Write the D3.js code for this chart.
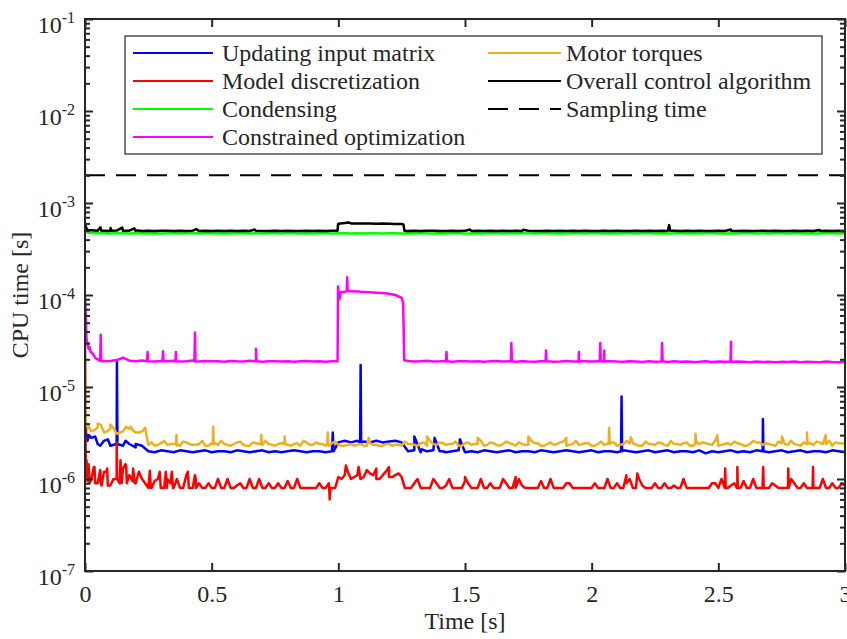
<!DOCTYPE html>
<html><head><meta charset="utf-8">
<script src="https://cdn.jsdelivr.net/npm/d3@7"></script>
<style>body{margin:0;background:#fff}svg{display:block}text{font-family:"Liberation Serif","Times New Roman",serif;fill:#262626}</style>
</head><body>
<script>
// ---------- DATA (values in microseconds, sampled every 25 ms; "Mid" arrays sit half a step later) ----------
const sampleStep = 0.025;
const xTickValues = [0, 0.5, 1, 1.5, 2, 2.5, 3];
const xTickLabels = ["0", "0.5", "1", "1.5", "2", "2.5", "3"];
const yDecades = [1e-7, 1e-6, 1e-5, 1e-4, 1e-3, 1e-2, 1e-1];
const yTickExponents = ["-7", "-6", "-5", "-4", "-3", "-2", "-1"];
const samplingTime = 2e-3;

const seriesNames = ["Updating input matrix", "Model discretization", "Condensing", "Constrained optimization", "Motor torques", "Overall control algorithm", "Sampling time"];
const seriesColors = ["#0000FF", "#FF0000", "#00FF00", "#FF00FF", "#EDB120", "#000000", "#000000"];

const updatingInput = [8,
 2.8,2.4,2.6,2.3,2.5,2.3,2.4,2.2,2.3,2.0,
 1.95,2.05,2.0,1.95,2.05,2.0,1.95,2.0,2.05,1.95,
 2.0,2.0,1.95,2.05,2.0,1.95,2.0,2.05,1.95,2.0,
 1.95,2.0,2.05,2.0,1.95,2.0,2.0,1.95,2.0,2.5,
 2.6,2.5,2.6,2.55,2.5,2.6,2.5,2.55,2.6,2.5,
 2.0,2.05,1.95,2.0,2.05,2.0,1.95,2.0,2.05,1.95,
 2.0,1.95,2.05,2.0,1.95,2.0,2.05,1.95,2.0,2.0,
 1.95,2.05,2.0,1.95,2.0,2.05,2.0,1.95,2.0,2.05,
 1.95,2.0,2.0,1.95,2.05,2.0,1.95,2.0,2.05,1.95,
 2.0,2.05,1.95,2.0,2.0,1.95,2.05,1.9,2.0,1.95,
 2.0,2.05,1.95,2.0,1.95,2.05,2.0,1.95,2.0,2.05,
 1.95,2.0,2.05,1.95,2.0,2.0,1.95,2.05,2.0,1.95];
const updatingInputMid = [];
const updatingInputExtra = [[0.004,3.2],[0.01,2.6],[0.015,3.0],[0.04,2.9],[0.06,2.3],[0.09,2.7],
 [0.124,2.4],[0.126,18.7],[0.128,2.4],[0.16,2.6],[0.2,2.4],[0.978,3.2],[0.981,2.0],
 [1.086,2.5],[1.088,17.3],[1.09,2.5],[1.3,2.9],[1.33,2.1],[1.38,2.8],[1.41,2.0],[1.48,2.7],
 [2.116,2.0],[2.118,7.9],[2.12,2.0],[2.674,2.0],[2.676,4.5],[2.678,2.0]];

const modelDisc = [30,
 1.0,0.9,1.2,0.85,1.0,1.3,1.1,0.9,1.0,0.8,
 0.95,0.8,1.0,0.8,0.8,1.1,0.8,0.9,0.8,0.8,
 1.0,0.8,0.8,0.85,0.8,1.0,0.8,0.8,0.9,0.8,
 0.8,0.95,0.8,0.8,0.8,0.8,0.9,0.8,0.8,1.05,
 1.1,1.0,1.1,1.05,1.15,1.0,1.1,1.05,1.1,1.05,
 0.8,0.9,0.8,0.8,1.0,0.8,0.85,0.8,0.8,0.95,
 0.8,0.8,0.8,0.9,0.8,1.0,0.8,0.8,0.85,0.8,
 0.8,0.95,0.8,0.8,0.8,0.9,0.8,0.8,0.8,0.8,
 0.8,0.8,0.8,0.9,0.8,1.0,0.8,0.85,0.8,0.9,
 0.8,0.8,0.85,0.8,0.8,0.8,0.8,0.8,0.9,0.8,
 0.8,0.85,0.8,0.95,0.8,0.8,0.9,0.8,0.85,0.8,
 0.8,0.9,0.8,0.8,0.85,0.8,0.8,0.9,0.8,0.85];
const modelDiscMid = [
 1.2,1.35,0.9,1.3,1.0,0.9,1.4,0.95,1.2,0.9,
 0.8,1.0,0.8,0.9,1.0,0.8,0.8,1.0,0.8,0.9,
 0.8,0.8,1.0,0.8,0.9,0.8,0.8,1.0,0.8,0.8,
 0.9,0.8,0.8,1.0,0.8,0.8,0.8,0.8,0.9,0.8,
 1.0,1.2,1.05,1.0,1.25,1.1,1.0,1.2,1.05,1.15,
 0.8,0.8,1.0,0.8,0.8,0.9,0.8,1.0,0.8,0.8,
 0.9,0.8,1.0,0.8,0.8,0.8,0.9,0.8,1.0,0.8,
 0.8,0.8,0.8,1.0,0.8,0.8,0.9,0.8,0.8,0.8,
 0.9,0.8,1.0,0.8,0.8,0.9,0.8,1.0,0.8,0.8,
 0.8,0.9,0.8,0.8,1.0,0.8,0.8,0.8,0.8,0.9,
 1.0,0.8,0.9,0.8,0.8,1.0,0.8,0.8,0.9,0.8,
 0.8,1.0,0.8,0.9,0.8,0.8,1.0,0.8,0.8,0.9];
const modelDiscExtra = [[0.003,1.3],[0.006,1.6],[0.01,0.95],[0.014,1.45],[0.018,0.9],[0.035,1.35],[0.04,0.9],
 [0.06,1.25],[0.065,0.85],[0.085,1.2],[0.09,0.85],[0.123,1.0],[0.125,2.5],[0.127,1.0],[0.14,1.6],[0.145,0.9],
 [0.16,1.45],[0.165,0.9],[0.19,1.3],[0.196,0.9],[0.256,1.23],[0.26,0.8],[0.295,1.2],[0.299,0.8],[0.319,1.2],
 [0.323,0.8],[0.343,1.2],[0.347,0.8],[0.406,1.2],[0.41,0.8],[0.434,1.1],[0.438,0.8],[0.964,0.8],[0.966,0.6],
 [0.968,0.8],[1.03,1.4],[1.08,1.35],[1.15,1.3],[1.2,1.35],[1.5,1.05],[1.7,1.05],[2.137,1.1],[2.18,1.15],
 [2.525,0.8],[2.527,1.3],[2.529,0.8],[2.573,0.8],[2.575,1.35],[2.577,0.8],[2.675,0.8],[2.677,1.35],[2.679,0.8],
 [2.774,0.8],[2.776,1.3],[2.778,0.8],[2.872,0.8],[2.874,1.35],[2.876,0.8]];

const condensing = [560,
 472,468,470,466,469,471,467,470,468,466,
 469,467,470,468,466,469,471,467,468,470,
 467,469,466,470,468,467,469,466,470,468,
 467,469,468,466,470,467,468,469,466,470,
 468,467,469,466,470,468,467,469,468,466,
 469,467,470,468,466,469,467,470,468,466,
 467,469,466,470,468,467,469,466,470,468,
 467,469,468,466,470,467,468,469,466,470,
 468,467,469,466,470,468,467,469,468,466,
 469,467,470,468,466,469,467,470,468,466,
 467,469,466,470,468,467,469,466,470,468,
 467,469,468,466,470,467,468,469,466,468];
const condensingMid = [];
const condensingExtra = [[0.004,500],[0.01,478]];

const constrainedOpt = [100,
 24,20,19,19.2,19.6,20.8,19.3,19,19.4,19.1,
 18.9,19.2,19,19.3,18.9,19.1,19.4,18.9,19.2,19,
 19.1,18.8,19.2,19,18.9,19.3,19,18.8,19.1,19,
 18.9,19.1,18.8,19,19.2,18.9,19,18.8,19.1,112,
 108,110,109,108,107,106,105,103,100,93,
 19.2,18.9,19.1,19.3,18.9,19,19.2,18.8,19.1,19,
 18.9,19.1,18.8,19,19.2,18.9,19,18.8,19.1,18.9,
 18.8,19,19.1,18.8,18.9,19.2,18.9,18.8,19,18.9,
 19,18.8,19.1,18.9,18.8,19,18.9,18.7,19,18.8,
 18.9,18.7,19,18.8,18.9,18.7,18.8,19,18.7,18.9,
 18.8,18.7,18.9,18.8,18.6,18.9,18.7,18.8,18.6,18.8,
 18.7,18.9,18.6,18.8,18.7,18.6,18.9,18.7,18.6,18.8];
const constrainedOptMid = [];
const constrainedOptExtra = [[0.003,60],[0.006,33],[0.01,30],[0.014,26],[0.018,27],[0.022,24],[0.035,22],[0.042,20.5],
 [0.06,19.2],[0.062,37],[0.064,19.2],[0.245,19],[0.247,24],[0.249,19],[0.306,19],[0.308,24.5],[0.31,19],
 [0.357,19],[0.359,24],[0.361,19],[0.432,19],[0.434,39],[0.436,19],[0.673,19],[0.675,26],[0.677,19],
 [0.997,19],[0.999,124],[1.004,90],[1.01,108],[1.033,110],[1.035,156],[1.037,110],[1.256,82],[1.26,19.5],
 [1.425,19],[1.427,24],[1.429,19],[1.681,19],[1.683,30],[1.685,19],[1.818,19],[1.82,25],[1.822,19],
 [1.948,19],[1.95,24],[1.952,19],[2.032,19],[2.034,30],[2.036,19],[2.048,19],[2.05,25],[2.052,19],
 [2.276,19],[2.278,30],[2.28,19],[2.548,18.8],[2.55,31],[2.552,18.8]];

const motorTorques = [13,
 3.3,3.6,3.2,3.5,3.1,3.3,3.5,3.2,3.3,2.35,
 2.3,2.45,2.35,2.4,2.3,2.5,2.35,2.4,2.3,2.45,
 2.35,2.4,2.3,2.5,2.35,2.3,2.45,2.35,2.4,2.3,
 2.45,2.35,2.4,2.3,2.5,2.35,2.4,2.3,2.45,2.35,
 2.3,2.4,2.35,2.3,2.45,2.35,2.3,2.4,2.35,2.3,
 2.4,2.35,2.45,2.3,2.4,2.5,2.35,2.4,2.3,2.45,
 2.35,2.4,2.3,2.5,2.35,2.4,2.45,2.3,2.4,2.35,
 2.45,2.3,2.4,2.35,2.5,2.3,2.4,2.35,2.45,2.3,
 2.4,2.35,2.5,2.3,2.4,2.45,2.35,2.3,2.4,2.35,
 2.45,2.3,2.4,2.35,2.5,2.3,2.4,2.45,2.35,2.3,
 2.4,2.35,2.45,2.3,2.4,2.5,2.35,2.4,2.3,2.45,
 2.35,2.4,2.3,2.45,2.35,2.5,2.4,2.3,2.45,2.4];
const motorTorquesMid = [
 3.8,3.4,3.9,3.3,3.6,3.2,3.7,3.4,3.2,3.6,
 2.5,2.35,2.6,2.4,2.3,2.55,2.4,2.35,2.6,2.3,
 2.45,2.6,2.35,2.4,2.55,2.3,2.5,2.4,2.6,2.35,
 2.4,2.55,2.3,2.45,2.6,2.35,2.5,2.4,2.3,2.55,
 2.3,2.35,2.3,2.4,2.3,2.35,2.3,2.4,2.3,2.35,
 2.55,2.4,2.3,2.5,2.6,2.35,2.45,2.4,2.55,2.3,
 2.5,2.4,2.6,2.35,2.45,2.3,2.55,2.4,2.5,2.35,
 2.6,2.45,2.3,2.5,2.4,2.55,2.35,2.6,2.4,2.45,
 2.3,2.55,2.4,2.5,2.35,2.6,2.45,2.3,2.55,2.4,
 2.5,2.35,2.6,2.4,2.45,2.3,2.55,2.5,2.4,2.6,
 2.35,2.45,2.55,2.4,2.3,2.6,2.5,2.45,2.35,2.55,
 2.4,2.6,2.35,2.5,2.45,2.55,2.4,2.6,2.5,2.45];
const motorTorquesExtra = [[0.004,4.0],[0.012,3.6],[0.05,4.0],[0.1,3.9],[0.18,3.7],
 [0.359,2.4],[0.361,3.0],[0.363,2.4],[0.504,2.4],[0.506,3.7],[0.508,2.4],[0.694,2.4],[0.696,3.0],[0.698,2.4],
 [0.786,2.4],[0.788,2.9],[0.79,2.4],[0.956,2.4],[0.958,3.2],[0.96,2.4],[1.12,2.8],[1.35,2.9],[1.55,2.8],
 [1.75,2.9],[1.9,2.8],[2.067,2.4],[2.069,3.6],[2.071,2.4],[2.155,2.85],[2.408,2.4],[2.41,3.1],[2.412,2.4],
 [2.496,3.0],[2.751,2.9],[2.848,2.4],[2.85,3.2],[2.852,2.4],[2.924,3.0]];

const overall = [600,
 505,498,500,497,502,498,500,505,497,499,
 496,500,498,497,499,496,500,497,498,496,
 499,497,500,496,498,497,499,496,497,499,
 496,498,497,496,499,497,498,497,499,596,
 605,600,598,600,597,596,598,595,593,590,
 497,499,496,498,500,497,496,499,497,498,
 496,499,497,498,496,500,497,498,496,499,
 497,496,499,497,498,496,499,497,498,496,
 497,499,496,498,497,496,499,497,498,497,
 499,496,498,497,499,496,498,497,496,499,
 497,498,496,499,497,496,498,497,499,496,
 497,499,496,498,497,496,499,497,498,496];
const overallMid = [];
const overallExtra = [[0.004,545],[0.01,505],[0.061,545],[0.065,498],[0.101,535],[0.105,498],[0.147,540],[0.152,498],
 [0.195,530],[0.199,498],[0.44,520],[0.67,515],[0.997,498],[0.999,590],[1.04,615],[1.257,585],[1.261,498],
 [1.52,515],[1.73,512],[2.306,575],[2.31,498],[2.55,515],[2.9,510]];

// ---------- LAYOUT ----------
const W = 847, H = 639;
const L = 85, R = 845, T = 19, B = 571;
const FONT = 24;
const axisColor = "#262626";

const svg = d3.select("body").append("svg").attr("width", W).attr("height", H);
const x = d3.scaleLinear().domain([0, 3]).range([L, R]);
const y = d3.scaleLog().domain([1e-7, 1e-1]).range([B, T]);

svg.append("defs").append("clipPath").attr("id", "clip")
  .append("rect").attr("x", L).attr("y", T).attr("width", R - L).attr("height", B - T);

function build(vals, mids, extra) {
  const pts = vals.map((v, i) => [i * sampleStep, v * 1e-6]);
  mids.forEach((v, i) => pts.push([(i + 0.5) * sampleStep, v * 1e-6]));
  extra.forEach(p => pts.push([p[0], p[1] * 1e-6]));
  pts.sort((a, b) => a[0] - b[0]);
  return pts;
}
const series = [
  build(updatingInput, updatingInputMid, updatingInputExtra),
  build(modelDisc, modelDiscMid, modelDiscExtra),
  build(condensing, condensingMid, condensingExtra),
  build(constrainedOpt, constrainedOptMid, constrainedOptExtra),
  build(motorTorques, motorTorquesMid, motorTorquesExtra),
  build(overall, overallMid, overallExtra)
];

const line = d3.line().x(d => x(d[0])).y(d => y(d[1]));
const plot = svg.append("g").attr("clip-path", "url(#clip)");
series.forEach((s, i) => {
  plot.append("path").datum(s).attr("d", line).attr("fill", "none")
    .attr("stroke", seriesColors[i]).attr("stroke-width", 2.5).attr("stroke-linejoin", "round");
});
plot.append("path").datum([[0, samplingTime], [3, samplingTime]]).attr("d", line)
  .attr("fill", "none").attr("stroke", "#000").attr("stroke-width", 2).attr("stroke-dasharray", "20,11");

// ---------- AXES ----------
const minorVals = [];
yDecades.slice(0, -1).forEach(d => { for (let k = 2; k <= 9; k++) minorVals.push(d * k); });

function styleAxis(g) {
  g.select(".domain").remove();
  g.selectAll(".tick line").attr("stroke", axisColor).attr("stroke-width", 2);
}
const gB = svg.append("g").attr("transform", `translate(0,${B})`)
  .call(d3.axisBottom(x).tickValues(xTickValues).tickSize(-8).tickPadding(14)
    .tickFormat((d, i) => xTickLabels[i]));
styleAxis(gB);
gB.selectAll("text").attr("font-size", FONT).attr("font-family", '"Liberation Serif", serif').attr("fill", axisColor);
const gT = svg.append("g").attr("transform", `translate(0,${T})`)
  .call(d3.axisTop(x).tickValues(xTickValues).tickSize(-8).tickFormat(""));
styleAxis(gT);
const gL = svg.append("g").attr("transform", `translate(${L},0)`)
  .call(d3.axisLeft(y).tickValues(yDecades).tickSize(-8).tickPadding(10).tickFormat(() => ""));
styleAxis(gL);
gL.selectAll(".tick text").each(function (d, i) {
  const t = d3.select(this).attr("font-size", FONT).attr("font-family", '"Liberation Serif", serif')
    .attr("fill", axisColor).attr("dy", "0.58em");
  t.text("10");
  t.append("tspan").attr("dy", -10).attr("font-size", 16).text(yTickExponents[i]);
});
const gLm = svg.append("g").attr("transform", `translate(${L},0)`)
  .call(d3.axisLeft(y).tickValues(minorVals).tickSize(-5).tickFormat(""));
styleAxis(gLm);
const gR = svg.append("g").attr("transform", `translate(${R},0)`)
  .call(d3.axisRight(y).tickValues(yDecades).tickSize(-8).tickFormat(""));
styleAxis(gR);
const gRm = svg.append("g").attr("transform", `translate(${R},0)`)
  .call(d3.axisRight(y).tickValues(minorVals).tickSize(-5).tickFormat(""));
styleAxis(gRm);

svg.append("rect").attr("x", L).attr("y", T).attr("width", R - L).attr("height", B - T)
  .attr("fill", "none").attr("stroke", axisColor).attr("stroke-width", 2);

svg.append("text").attr("x", (L + R) / 2).attr("y", 629).attr("text-anchor", "middle")
  .attr("font-size", FONT).text("Time [s]");
svg.append("text").attr("transform", `translate(28,${(T + B) / 2}) rotate(-90)`).attr("text-anchor", "middle")
  .attr("font-size", FONT).text("CPU time [s]");

// ---------- LEGEND ----------
const lg = svg.append("g");
lg.append("rect").attr("x", 125).attr("y", 36).attr("width", 697).attr("height", 118)
  .attr("fill", "#fff").attr("stroke", axisColor).attr("stroke-width", 1.2);
const rowY = [53, 81, 109, 137];
const cols = [{x1: 133, x2: 213, tx: 222}, {x1: 488, x2: 561, tx: 566}];
seriesNames.forEach((name, i) => {
  const c = i < 4 ? cols[0] : cols[1];
  const ry = rowY[i < 4 ? i : i - 4];
  lg.append("line").attr("x1", c.x1).attr("x2", c.x2).attr("y1", ry).attr("y2", ry)
    .attr("stroke", seriesColors[i]).attr("stroke-width", 2)
    .attr("stroke-dasharray", i === 6 ? "20,11" : null);
  lg.append("text").attr("x", c.tx).attr("y", ry + 8).attr("font-size", FONT).attr("fill", "#000").text(name);
});
</script>
</body></html>
